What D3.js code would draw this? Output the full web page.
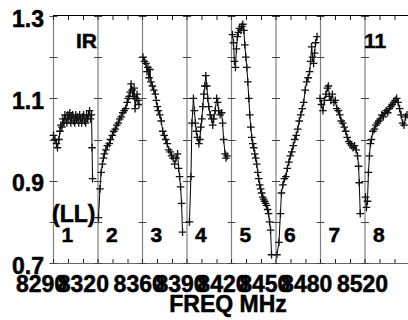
<!DOCTYPE html>
<html>
<head>
<meta charset="utf-8">
<script src="https://cdn.jsdelivr.net/npm/d3@7"></script>
<style>
    body { margin: 0; background: #fff; }
    text { font-family: 'Liberation Sans', Arial, sans-serif; font-weight: bold; fill: #000; stroke: #000; stroke-width: 0.5px; }
</style>
</head>
<body>
<svg id="chart" width="408" height="320"></svg>
<script>
// panel names, one per receiver band
const panels = ['1', '2', '3', '4', '5', '6', '7', '8'];

// [channel, ratio]
const p1 = [[0.5,1.01],[2,1.00],[3.5,0.99],[4.5,0.98],[6,1.00],[7,1.02],[8,1.035],[9,1.03],[10,1.05],[11,1.04],[12,1.06],[13,1.05],[14,1.04],[15,1.06],[16,1.05],[17,1.065],[18,1.04],[19,1.055],[20,1.06],[21,1.045],[22,1.04],[23,1.06],[24,1.05],[25,1.055],[26,1.04],[27,1.06],[28,1.05],[29,1.04],[30,1.055],[31,1.06],[32,1.045],[33,1.04],[34,1.06],[35,1.05],[36,1.06],[37,1.07],[38,1.05],[39,1.06],[39.5,0.98],[40,0.905]];
const p2 = [[1,0.81],[2.5,0.88],[3.7,0.92],[5,0.94],[6,0.955],[7,0.965],[8.5,0.975],[10,0.985],[12,0.99],[13,1.00],[15,1.01],[16.5,1.02],[18,1.025],[19.5,1.035],[21,1.04],[22.5,1.05],[24,1.055],[25.5,1.065],[27,1.07],[28.5,1.075],[30,1.09],[31,1.10],[32,1.105],[33,1.115],[34,1.135],[35,1.12],[36,1.105],[37,1.125],[38,1.075],[39,1.10],[40,1.11],[41,1.095],[42,1.085]];
const p3 = [[1,1.20],[2.5,1.19],[4,1.185],[5,1.165],[6,1.175],[7,1.15],[8,1.17],[9,1.14],[10.5,1.13],[12,1.12],[13.5,1.11],[14.5,1.095],[15.5,1.08],[16.5,1.07],[18,1.06],[19.5,1.045],[21,1.02],[22.5,1.01],[24,1.00],[25.5,0.99],[27,0.975],[28.5,0.97],[30,0.96],[31.5,0.955],[33,0.94],[34.5,0.955],[36,0.965],[37,0.93],[38,0.91],[39,0.885],[40,0.845],[41,0.775]];
const p4 = [[3,0.80],[4.5,0.91],[5.5,1.04],[7,1.10],[8,1.07],[9,1.04],[10,1.02],[11,1.005],[12.5,0.99],[13.5,1.00],[14.5,1.03],[15.5,1.05],[16.5,1.08],[17.5,1.11],[18.5,1.13],[19.5,1.155],[20.5,1.13],[21.5,1.10],[22.5,1.08],[24,1.06],[25.5,1.05],[26.5,1.035],[27.5,1.05],[29,1.07],[30.5,1.10],[31.5,1.09],[32.5,1.07],[34,1.06],[35.5,1.065],[36.5,1.04],[37.5,1.00],[39,0.965],[40,0.955],[41,0.96]];
const p5 = [[1.5,1.255],[2.5,1.235],[3.5,1.19],[4.5,1.175],[5.5,1.22],[6.5,1.25],[7.5,1.26],[8.5,1.27],[10,1.265],[11,1.275],[12,1.28],[13,1.265],[14,1.23],[15,1.20],[16,1.175],[17,1.14],[18,1.10],[19,1.06],[20,1.03],[21,1.005],[22,0.99],[23,0.98],[24,0.965],[25,0.955],[26,0.94],[27,0.92],[28,0.905],[29,0.89],[30,0.88],[31,0.87],[32,0.86],[33,0.855],[34,0.85],[35,0.845],[36,0.84],[37,0.83],[38,0.82],[39,0.80],[40,0.78],[41,0.72]];
const p6 = [[1.5,0.72],[3.5,0.75],[5,0.82],[6,0.87],[7.5,0.89],[9,0.905],[10.5,0.91],[12,0.93],[13.5,0.945],[15,0.96],[16.5,0.97],[18,0.985],[19.5,1.00],[21,1.01],[22.5,1.025],[24,1.045],[25.5,1.06],[27,1.075],[28.5,1.09],[30,1.12],[31.5,1.14],[33,1.15],[34.5,1.165],[35.5,1.19],[36.5,1.225],[37.5,1.20],[38.5,1.185],[39.5,1.21],[40.5,1.235],[42,1.25]];
const p7 = [[0,1.10],[1.5,1.085],[3,1.07],[4.5,1.095],[6,1.11],[7.5,1.125],[8.5,1.13],[9.5,1.105],[11,1.095],[12.5,1.11],[14,1.09],[15.5,1.095],[17,1.075],[18.5,1.07],[20,1.06],[21.5,1.045],[23,1.04],[24.5,1.03],[26,1.02],[27.5,1.005],[29,0.995],[30.5,0.99],[32,0.985],[33.5,0.98],[35,0.985],[36.5,0.975],[38,0.96],[39,0.935],[39.7,0.895],[40.7,0.82]];
const p8 = [[1,0.86],[2,0.835],[3,0.85],[4,0.92],[5,0.96],[6,0.99],[7,1.00],[8.5,1.02],[10,1.025],[11.5,1.035],[13,1.04],[14.5,1.045],[16,1.05],[17.5,1.06],[19,1.055],[20.5,1.065],[22,1.07],[23.5,1.065],[25,1.075],[26.5,1.08],[28,1.085],[29.5,1.09],[31,1.095],[32.5,1.10],[34,1.09],[35.5,1.075],[37,1.06],[38.5,1.04],[40,1.035],[41.5,1.055],[43,1.06]];
const panelData = [p1, p2, p3, p4, p5, p6, p7, p8];

const yTicks = [0.7, 0.8, 0.9, 1.0, 1.1, 1.2, 1.3];
const yLabels = [0.7, 0.9, 1.1, 1.3];
const chTicks = [0, 15, 30];
const freqLabels = [8290, 8320, 8360, 8390, 8420, 8450, 8480, 8520];

const svg = d3.select('#chart');

let y = d3.scaleLinear().domain([0.7, 1.3]).range([263, 16]);
let band = d3.scaleBand().domain(panels).range([53, 409]);
let x = d3.scaleLinear().domain([0, 45]).range([0, band.bandwidth()]);
let freq = d3.scaleLinear().domain([8290, 8520]).range([41, 362]);

const crisp = v => Math.round(v) + 0.5;

// frame: top black, bottom gray
svg.append('line')
    .attr('x1', 53).attr('x2', 409)
    .attr('y1', crisp(y(1.3)) - 1).attr('y2', crisp(y(1.3)) - 1)
    .attr('stroke', '#000').attr('stroke-width', 1);
svg.append('line')
    .attr('x1', 53).attr('x2', 409)
    .attr('y1', crisp(y(0.7))).attr('y2', crisp(y(0.7)))
    .attr('stroke', '#666').attr('stroke-width', 1);

let panel_g = svg.selectAll('.panel')
    .data(panels)
    .join('g')
    .attr('class', 'panel')
    .attr('transform', d => `translate(${band(d)}, 0)`);

// separators
panel_g.append('line')
    .attr('x1', 0.5).attr('x2', 0.5)
    .attr('y1', y(1.3)).attr('y2', y(0.7))
    .attr('stroke', '#808080').attr('stroke-width', 1.2);

// y ticks on each separator
panel_g.selectAll('.ytick')
    .data(yTicks)
    .join('line')
    .attr('class', 'ytick')
    .attr('x1', -3.5).attr('x2', 4.5)
    .attr('y1', d => crisp(y(d))).attr('y2', d => crisp(y(d)))
    .attr('stroke', '#444').attr('stroke-width', 1);

// x ticks at top and bottom
panel_g.selectAll('.xtickTop')
    .data(chTicks)
    .join('line')
    .attr('class', 'xtickTop')
    .attr('x1', d => crisp(x(d))).attr('x2', d => crisp(x(d)))
    .attr('y1', y(1.3)).attr('y2', y(1.3) + 4)
    .attr('stroke', '#222');
panel_g.selectAll('.xtickBot')
    .data(chTicks)
    .join('line')
    .attr('class', 'xtickBot')
    .attr('x1', d => crisp(x(d))).attr('x2', d => crisp(x(d)))
    .attr('y1', y(0.7)).attr('y2', y(0.7) - 4)
    .attr('stroke', '#222');

let line = d3.line()
    .x(d => x(d[0]))
    .y(d => y(d[1]));

panel_g.append('path')
    .datum((d, i) => panelData[i])
    .attr('fill', 'none')
    .attr('stroke', '#000')
    .attr('stroke-width', 1)
    .attr('d', line);

panel_g.selectAll('.mark')
    .data((d, i) => panelData[i])
    .join('path')
    .attr('class', 'mark')
    .attr('transform', d => `translate(${x(d[0])}, ${y(d[1])})`)
    .attr('d', 'M-3.8,0H3.8M0,-3.8V3.8')
    .attr('stroke', '#111')
    .attr('stroke-width', 1.3);

// panel numbers
panel_g.append('text')
    .attr('x', 8.5)
    .attr('y', 242)
    .style('font-size', '21px')
    .text(d => d);

// y labels
svg.selectAll('.ylabel')
    .data(yLabels)
    .join('text')
    .attr('class', 'ylabel')
    .attr('x', 44)
    .attr('y', d => y(d) + 10.5)
    .attr('text-anchor', 'end')
    .style('font-size', '23px')
    .text(d => d.toFixed(1));

// frequency labels (own scale, overlapping as in the plot)
let freqAxis = d3.axisBottom(freq).tickValues(freqLabels).tickSize(0).tickFormat(d3.format('d'));
let fa = svg.append('g')
    .attr('transform', 'translate(0, 275)')
    .call(freqAxis);
fa.select('.domain').remove();
fa.selectAll('text')
    .attr('dy', '0.74em')
    .attr('y', 0)
    .style('font-size', '23px')
    .style('font-family', "'Liberation Sans', Arial, sans-serif")
    .style('font-weight', 'bold')
    .attr('fill', '#000');

svg.append('text')
    .attr('x', 228).attr('y', 312)
    .attr('text-anchor', 'middle')
    .style('font-size', '23px')
    .text('FREQ MHz');

svg.append('text').attr('x', 76).attr('y', 48).style('font-size', '21px').text('IR');
svg.append('text').attr('x', 364).attr('y', 48).style('font-size', '21px').text('11');
svg.append('text').attr('x', 52).attr('y', 222).style('font-size', '23px').text('(LL)');
</script>
</body>
</html>
